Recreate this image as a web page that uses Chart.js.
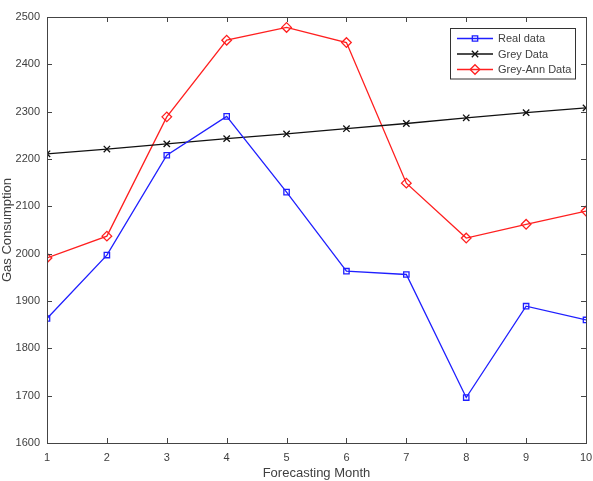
<!DOCTYPE html>
<html>
<head>
<meta charset="utf-8">
<script src="https://cdn.jsdelivr.net/npm/chart.js@4"></script>
<style>
  html, body { margin: 0; padding: 0; background: #fff; }
  #wrap { width: 593px; height: 481px; }
</style>
</head>
<body>
<div id="wrap"><canvas id="gasChart"></canvas></div>
<script>
// forecasting months and the three series
let months = [1, 2, 3, 4, 5, 6, 7, 8, 9, 10];
let realData = [1863, 1997, 2208, 2290, 2130, 1963, 1956, 1696, 1889, 1860];
let greyData = [2211, 2221, 2232, 2243, 2253, 2264, 2275, 2287, 2298, 2308];
let greyAnnData = [1991, 2037, 2289, 2451, 2478, 2446, 2149, 2033, 2062, 2090];
let seriesNames = ['Real data', 'Grey Data', 'Grey-Ann Data'];

let axisColor = '#444444';
let textColor = '#404040';
let fontFamily = 'Liberation Sans, Arial, sans-serif';

function toPoints(values) {
  return values.map((v, i) => ({ x: months[i], y: v }));
}

// box around the plot with ticks pointing inwards (matlab look)
let framePlugin = {
  id: 'framePlugin',
  afterDatasetsDraw(chart) {
    let { ctx, chartArea: a, scales } = chart;
    let len = 5;
    ctx.save();
    ctx.strokeStyle = axisColor;
    ctx.lineWidth = 1;
    ctx.beginPath();
    scales.x.ticks.forEach(t => {
      let px = Math.round(scales.x.getPixelForValue(t.value)) + 0.5;
      ctx.moveTo(px, a.bottom); ctx.lineTo(px, a.bottom - len);
      ctx.moveTo(px, a.top); ctx.lineTo(px, a.top + len);
    });
    scales.y.ticks.forEach(t => {
      let py = Math.round(scales.y.getPixelForValue(t.value)) + 0.5;
      ctx.moveTo(a.left, py); ctx.lineTo(a.left + len, py);
      ctx.moveTo(a.right, py); ctx.lineTo(a.right - len, py);
    });
    ctx.stroke();
    ctx.strokeRect(Math.round(a.left) + 0.5, Math.round(a.top) + 0.5,
      Math.round(a.right - a.left), Math.round(a.bottom - a.top));
    ctx.restore();
  }
};

// legend box in the upper right corner of the plot
let boxLegend = {
  id: 'boxLegend',
  afterDraw(chart) {
    let { ctx, chartArea: a } = chart;
    let w = 125, rowH = 15.5;
    let h = rowH * chart.data.datasets.length + 4;
    let x0 = a.right - 11 - w, y0 = a.top + 11;
    ctx.save();
    ctx.fillStyle = '#fff';
    ctx.fillRect(x0, y0, w, h);
    ctx.strokeStyle = '#333';
    ctx.lineWidth = 1;
    ctx.strokeRect(Math.round(x0) + 0.5, Math.round(y0) + 0.5, w, h);
    ctx.font = '11px ' + fontFamily;
    ctx.textBaseline = 'middle';
    chart.data.datasets.forEach((ds, i) => {
      let y = y0 + 10.5 + i * rowH;
      ctx.strokeStyle = ds.borderColor;
      ctx.lineWidth = ds.borderWidth;
      ctx.beginPath();
      ctx.moveTo(x0 + 7, y);
      ctx.lineTo(x0 + 43, y);
      ctx.stroke();
      ctx.fillStyle = 'rgba(0,0,0,0)';
      Chart.helpers.drawPoint(ctx, {
        pointStyle: ds.pointStyle, radius: ds.pointRadius, rotation: 0, borderWidth: ds.borderWidth
      }, x0 + 25, y);
      ctx.fillStyle = textColor;
      ctx.fillText(ds.label, x0 + 48, y + 0.5);
    });
    ctx.restore();
  }
};

let config = {
  type: 'line',
  data: {
    datasets: [
      { label: seriesNames[0], data: toPoints(realData), borderColor: '#1f1fff', borderWidth: 1.3,
        pointStyle: 'rect', pointRadius: 3.8, pointBackgroundColor: 'rgba(0,0,0,0)', pointBorderColor: '#1f1fff' },
      { label: seriesNames[1], data: toPoints(greyData), borderColor: '#111111', borderWidth: 1.3,
        pointStyle: 'crossRot', pointRadius: 4.5, pointBackgroundColor: 'rgba(0,0,0,0)', pointBorderColor: '#111111' },
      { label: seriesNames[2], data: toPoints(greyAnnData), borderColor: '#ff1f1f', borderWidth: 1.3,
        pointStyle: 'rectRot', pointRadius: 4.8, pointBackgroundColor: 'rgba(0,0,0,0)', pointBorderColor: '#ff1f1f' }
    ]
  },
  options: {
    responsive: true,
    maintainAspectRatio: false,
    animation: false,
    layout: { padding: { top: 17, right: 7, left: 0, bottom: 0 } },
    plugins: { legend: { display: false }, tooltip: { enabled: false } },
    elements: { line: { tension: 0 } },
    scales: {
      x: {
        type: 'linear', min: 1, max: 10,
        grid: { display: false, drawTicks: false },
        border: { display: false },
        ticks: { stepSize: 1, color: textColor, padding: 8, font: { size: 11, family: fontFamily },
          callback: v => String(v) },
        title: { display: true, text: 'Forecasting Month', color: textColor, padding: 0,
          font: { size: 13, family: fontFamily } },
        afterFit(scale) {
          scale.height = 38;
          scale.paddingLeft = 0;
          scale.paddingRight = 0;
        }
      },
      y: {
        min: 1600, max: 2500,
        grid: { display: false, drawTicks: false },
        border: { display: false },
        ticks: { stepSize: 100, color: textColor, padding: 7, font: { size: 11, family: fontFamily },
          callback: v => String(v) },
        title: { display: true, text: 'Gas Consumption', color: textColor, padding: 0,
          font: { size: 13, family: fontFamily } },
        afterFit(scale) { scale.width = 47; }
      }
    }
  },
  plugins: [framePlugin, boxLegend]
};

let ctx = document.getElementById('gasChart').getContext('2d');
let gasChart = new Chart(ctx, config);
</script>
</body>
</html>
